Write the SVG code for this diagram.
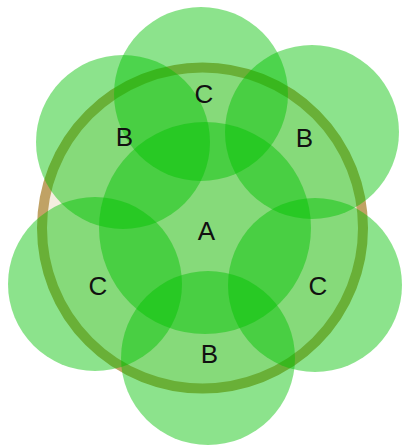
<svg xmlns="http://www.w3.org/2000/svg" width="402" height="446" viewBox="0 0 402 446">
<style>
.bg{fill:#ffffff}
.outer{fill:#f4eedf;stroke:#c0a265;stroke-width:10}
.disc{fill:#00c000;fill-opacity:0.45}
.lbl{font-family:"Liberation Sans",Arial,sans-serif;font-size:26px;fill:#111111;text-anchor:middle}
</style>
<rect class="bg" x="0" y="0" width="402" height="446"/>
<g id="outer-ring"><circle class="outer" cx="202.5" cy="228" r="160.5"/></g>
<g id="node-A"><circle class="disc" cx="205" cy="228" r="106"/><text class="lbl" x="206.5" y="240">A</text></g>
<g id="node-C-top"><circle class="disc" cx="201" cy="94" r="87"/></g>
<g id="node-B-upper-right"><circle class="disc" cx="312" cy="132" r="87"/></g>
<g id="node-C-lower-right"><circle class="disc" cx="315" cy="285" r="87"/></g>
<g id="node-B-bottom"><circle class="disc" cx="208" cy="358" r="87"/></g>
<g id="node-C-lower-left"><circle class="disc" cx="95" cy="284" r="87"/></g>
<g id="node-B-upper-left"><circle class="disc" cx="123" cy="142" r="87"/></g>
<g id="labels">
<text class="lbl" x="204" y="103">C</text>
<text class="lbl" x="304.5" y="147">B</text>
<text class="lbl" x="318" y="295">C</text>
<text class="lbl" x="209.5" y="363">B</text>
<text class="lbl" x="98" y="295">C</text>
<text class="lbl" x="124.5" y="146">B</text>
</g>
</svg>
